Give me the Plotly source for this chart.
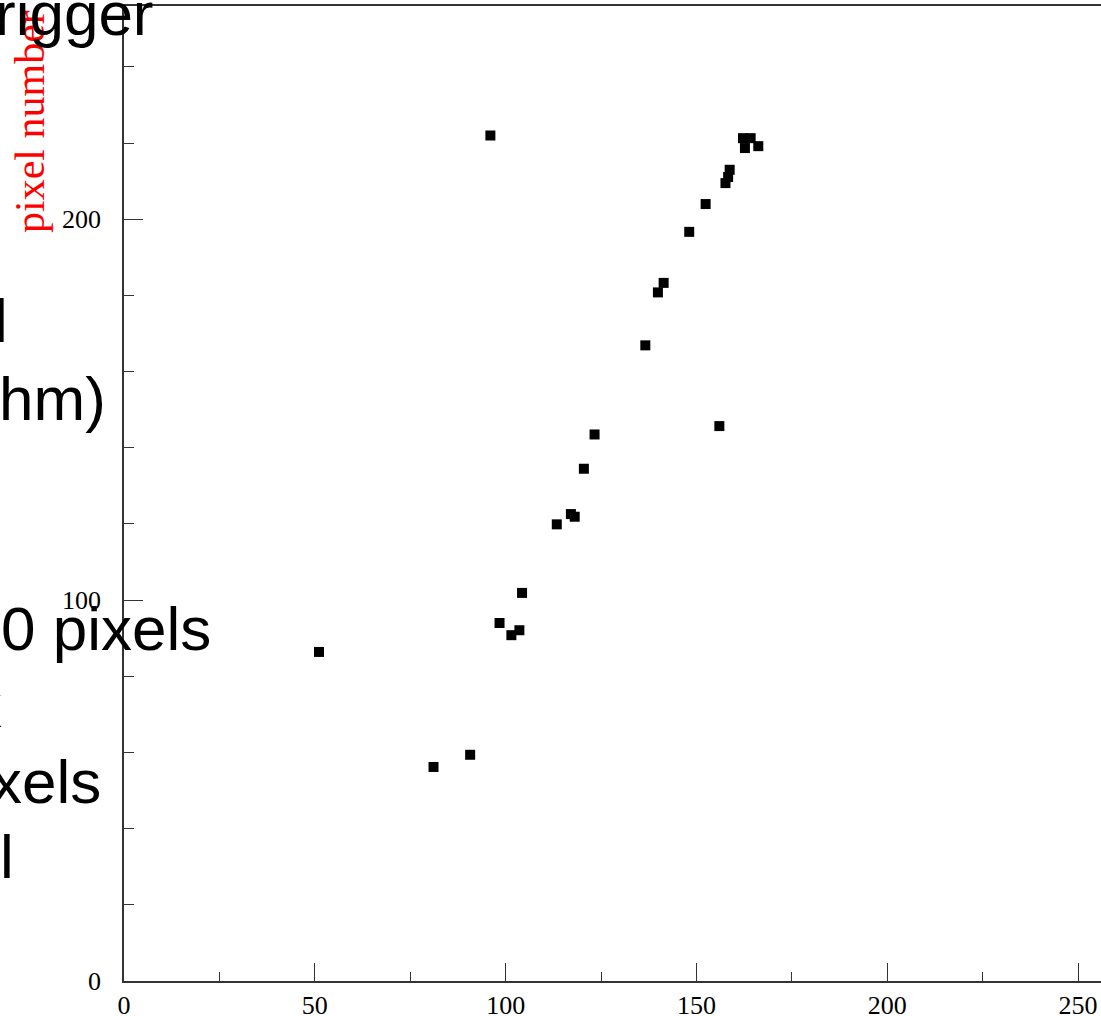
import plotly.graph_objects as go

# data
pixel_x = [96.0, 162.2, 164.2, 162.7, 166.2, 158.7, 158.3, 157.6, 152.4, 148.1,
           141.4, 139.9, 136.6, 156.0, 123.3, 120.5, 117.1, 118.1, 113.4, 104.3,
           98.4, 103.6, 101.5, 51.1, 90.7, 81.1]
pixel_y = [222.0, 221.3, 221.3, 218.7, 219.2, 213.0, 211.1, 209.5, 204.0, 196.7,
           183.3, 180.8, 166.9, 145.7, 143.5, 134.5, 122.6, 121.9, 119.9, 101.9,
           94.0, 92.1, 90.8, 86.4, 59.4, 56.2]

x_ticks = [0, 50, 100, 150, 200, 250]
y_ticks = [0, 100, 200]
y_title = "pixel number y"

# overlaid slide text fragments (visible right-hand parts)
overlay_text = ["rigger", "l", "hm)", "0 pixels", "x", "xels", "l"]

W, H = 1101, 1016
ML, MR, MT, MB = 124, 0, 6, 35
PW, PH = W - ML - MR, H - MT - MB

def px2paper_x(px):
    return (px - ML) / PW

def px2paper_y(py):
    return (H - MB - py) / PH

fig = go.Figure()
fig.add_trace(go.Scatter(
    x=pixel_x, y=pixel_y, mode="markers",
    marker=dict(symbol="square", size=10, color="black", line=dict(width=0)),
    showlegend=False, hoverinfo="x+y",
))

axis_common = dict(
    showgrid=False, zeroline=False, showline=True, linecolor="#333333", linewidth=1.6,
    ticks="inside", tickcolor="#333333", tickwidth=1.4,
    tickfont=dict(family="Liberation Serif", size=26, color="black"),
    range=[0, 256], fixedrange=True,
)

fig.update_layout(
    width=W, height=H,
    margin=dict(l=ML, r=MR, t=MT, b=MB, autoexpand=False),
    paper_bgcolor="white", plot_bgcolor="white",
    xaxis=dict(**axis_common, tickvals=x_ticks, ticktext=[str(v) for v in x_ticks],
               ticklen=18, mirror=True,
               minor=dict(dtick=25, tick0=0, ticks="inside", ticklen=9,
                          tickcolor="#333333", tickwidth=1.4)),
    yaxis=dict(**axis_common, tickvals=y_ticks, ticktext=[str(v) for v in y_ticks],
               ticklen=19, ticklabelstandoff=16,
               minor=dict(dtick=20, tick0=0, ticks="inside", ticklen=10,
                          tickcolor="#333333", tickwidth=1.4)),
)

# red rotated y title
fig.add_annotation(
    text=y_title, textangle=-90, showarrow=False,
    xref="paper", yref="paper",
    x=px2paper_x(30), y=px2paper_y(106), xanchor="center", yanchor="middle",
    font=dict(family="Liberation Serif", size=42, color="red"),
)

# black overlay text lines: (right edge px, baseline px)
overlay_pos = [(156, 35), (10, 342), (108, 420), (213, 650), (4, 727), (103, 803), (16, 878)]
FS = 62
for txt, (rx, base) in zip(overlay_text, overlay_pos):
    fig.add_annotation(
        text=txt, showarrow=False, xref="paper", yref="paper",
        x=px2paper_x(rx), y=px2paper_y(base - 0.3465 * FS),
        xanchor="right", yanchor="middle",
        font=dict(family="Liberation Sans", size=FS, color="black"),
    )

fig.write_html(
    "out.html",
    config={"displayModeBar": False},
    post_script="document.body.style.margin='0px';document.body.style.padding='0px';"
                "document.body.style.overflow='hidden';",
)
